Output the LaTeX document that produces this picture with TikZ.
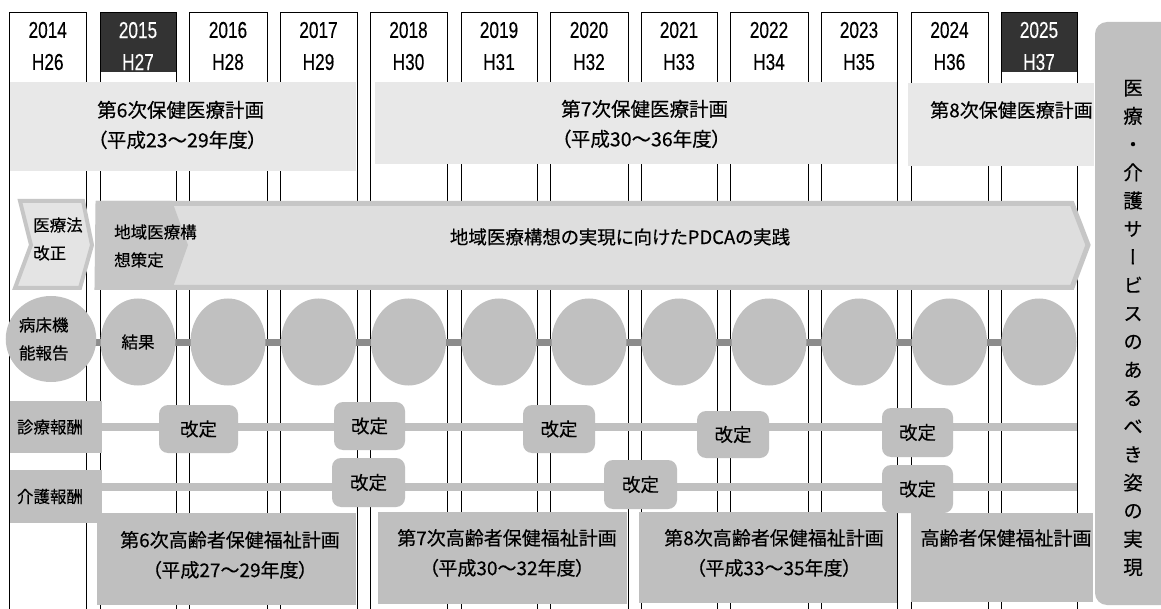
\documentclass[tikz,border=0pt]{standalone}
\usepackage{fontspec}
\setmainfont{Noto Sans CJK JP}[RawFeature=+palt,FakeBold=0.35]
\newfontfamily\yearfont{Liberation Sans}[FakeStretch=0.75,FakeBold=0.2]
\newfontfamily\vjp{Noto Sans CJK JP}[RawFeature=+vert,FakeBold=0.35]
\usetikzlibrary{shapes.geometric}
\definecolor{darkhdr}{HTML}{333333}
\definecolor{planlight}{HTML}{E8E8E8}
\definecolor{arrowfill}{HTML}{DEDEDE}
\definecolor{arrowline}{HTML}{C6C6C6}
\definecolor{chevfill}{HTML}{E4E4E4}
\definecolor{circgray}{HTML}{C0C0C0}
\definecolor{conngray}{HTML}{8C8C8C}
\definecolor{boxgray}{HTML}{BFBFBF}
\begin{document}
\begin{tikzpicture}[x=1pt,y=-1pt,
  colbox/.style={draw=black,line width=0.9pt},
  yr/.style={font=\yearfont\fontsize{23}{32}\selectfont,align=center,inner sep=0},
  rect/.style={inner sep=0,anchor=north west,outer sep=0},
  band/.style={rect,fill=planlight},
  plantxt/.style={font=\fontsize{19.5}{30}\selectfont,align=left,inner sep=0},
  smalltxt/.style={font=\fontsize{16.5}{28}\selectfont,align=left,inner sep=0},
  oval/.style={ellipse,fill=circgray,inner sep=0,minimum width=75,minimum height=87,font=\fontsize{16.5}{20}\selectfont},
  lblbox/.style={rect,fill=boxgray,text width=78,align=left,inner xsep=7,font=\fontsize{16.5}{20}\selectfont},
  rowline/.style={draw=circgray,line width=8},
  kaitei/.style={rect,fill=boxgray,rounded corners=9,font=\fontsize{18.5}{20}\selectfont},
  bigbox/.style={rect,fill=boxgray},
  boxtxt/.style={font=\fontsize{19}{30}\selectfont,align=center,inner sep=0}
]
\useasboundingbox (0,0) rectangle (1161,609);
\fill[white] (0,0) rectangle (1161,609);

% year columns
\foreach \l/\r/\yy/\hh/\dk [count=\i] in {9.5/86/2014/H26/0, 100/176/2015/H27/1, 189/267/2016/H28/0, 280/357/2017/H29/0, 370/447/2018/H30/0, 461/537/2019/H31/0, 550/628/2020/H32/0, 641/717/2021/H33/0, 730/808/2022/H34/0, 821/897/2023/H35/0, 911/988/2024/H36/0, 1001/1077/2025/H37/1}{
  \def\tc{black}
  \ifnum\dk=1 \fill[darkhdr] (\l,12.7) rectangle (\r,72); \def\tc{white}\fi
  \draw[colbox] (\l,12.7) rectangle (\r,615);
  \node[yr,text=\tc] (y\i) at ({(\l+\r)/2},46) {\yy\\\hh};
  \coordinate (c\i) at ({(\l+\r)/2},342);
}

% health-care plan bands
\node[band,minimum width=346,minimum height=89] (p6) at (10,82) {};
\node[band,minimum width=522,minimum height=82] (p7) at (375,82) {};
\node[band,minimum width=186,minimum height=83] (p8) at (908,83) {};
\node[plantxt,anchor=west] (t6) at (97,125) {第6次保健医療計画\\（平成23～29年度）};
\node[plantxt,anchor=west] (t7) at (561,124) {第7次保健医療計画\\（平成30～36年度）};
\node[plantxt,anchor=west,font=\fontsize{19}{30}\selectfont] (t8) at (930,110) {第8次保健医療計画};

% chevrons
\draw[draw=arrowline,fill=chevfill,line width=4] (20,201) -- (83,201) -- (92,245) -- (80,288) -- (15,288) -- (31,245) -- cycle;
\node[smalltxt,anchor=west] (h1) at (33,239) {医療法\\改正};
\draw[draw=arrowline,fill=arrowfill,line width=5] (98,203.5) -- (1072,203.5) -- (1088,245) -- (1072,287.5) -- (97,287.5) -- cycle;
\fill[arrowline] (96,201) -- (172,201) -- (188,245) -- (172,290) -- (96,290) -- cycle;
\node[smalltxt,anchor=west] (h2) at (114,246) {地域医療構\\想策定};
\node[font=\fontsize{18.5}{20}\selectfont,inner sep=0] (h3) at (620,237) {地域医療構想の実現に向けたPDCAの実践};

% bed function report row
\draw[conngray,line width=7] (c1) -- (c12);
\node[oval,minimum width=88,minimum height=86,text width=64,align=left,font=\fontsize{16.5}{28}\selectfont] (lab) at (51,339) {病床機\\能報告};
\node[oval] (o2) at (c2) {結果};
\foreach \i in {3,...,12}{\node[oval] (o\i) at (c\i) {};}

% medical fee row
\node[lblbox,minimum height=52] (shin) at (10,401) {診療報酬};
\coordinate (shinEnd) at (1077,427);
\draw[rowline] (shin.east) -- (shinEnd);
\node[kaitei,minimum width=79,minimum height=48] (s1) at (159,405) {改定};
\node[kaitei,minimum width=71,minimum height=48] (s2) at (334,402) {改定};
\node[kaitei,minimum width=72,minimum height=48] (s3) at (523,405) {改定};
\node[kaitei,minimum width=72,minimum height=47] (s4) at (697,411) {改定};
\node[kaitei,minimum width=71,minimum height=49] (s5) at (882,408) {改定};

% care fee row
\node[lblbox,minimum height=53] (kai) at (10,470) {介護報酬};
\coordinate (kaiEnd) at (1077,487);
\draw[rowline] (kai.east |- kaiEnd) -- (kaiEnd);
\node[kaitei,minimum width=73,minimum height=49] (k1) at (332,458) {改定};
\node[kaitei,minimum width=73,minimum height=49] (k2) at (604,460) {改定};
\node[kaitei,minimum width=71,minimum height=48] (k3) at (882,465) {改定};

% elderly plans
\node[bigbox,minimum width=259,minimum height=92] (b1) at (97,513) {};
\node[bigbox,minimum width=249,minimum height=92] (b2) at (378,512) {};
\node[bigbox,minimum width=258,minimum height=91] (b3) at (639,512) {};
\node[bigbox,minimum width=182,minimum height=89] (b4) at (911,513) {};
\node[boxtxt] (e1) at (230,555) {第6次高齢者保健福祉計画\\（平成27～29年度）};
\node[boxtxt] (e2) at (507,553) {第7次高齢者保健福祉計画\\（平成30～32年度）};
\node[boxtxt] (e3) at (774,553) {第8次高齢者保健福祉計画\\（平成33～35年度）};
\node[boxtxt] (e4) at (1006,538) {高齢者保健福祉計画};

% goal bar
\node[rect,fill=circgray,rounded corners=12,minimum width=90,minimum height=583] (goal) at (1095,22) {};
\node[font=\vjp\fontsize{19.5}{28.2}\selectfont,align=center,inner sep=0] (goaltxt) at (1133,328) {医\\療\\・\\介\\護\\サ\\ー\\ビ\\ス\\の\\あ\\る\\べ\\き\\姿\\の\\実\\現};
\end{tikzpicture}
\end{document}
